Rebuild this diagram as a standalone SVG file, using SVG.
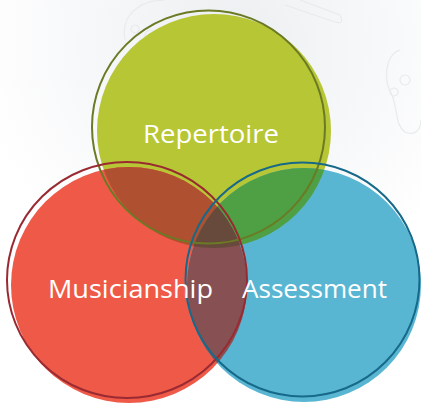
<svg xmlns="http://www.w3.org/2000/svg" width="421" height="403" viewBox="0 0 421 403">
<style>
.lbl{font-family:"Open Sans","Noto Sans","Liberation Sans",sans-serif;font-size:26px;fill:#FFFFFF}
.ring{fill:none;stroke-width:2}
.deco{fill:none;stroke:#E8EAEC;stroke-width:1.2}
</style>
<defs>
<radialGradient id="bg" cx="230" cy="40" r="260" gradientUnits="userSpaceOnUse">
<stop offset="0" stop-color="#ECEFF1"/>
<stop offset="1" stop-color="#FFFFFF"/>
</radialGradient>
<circle id="cG" cx="214" cy="131" r="117"/>
<circle id="cR" cx="129" cy="285" r="118"/>
<circle id="cB" cx="304" cy="285" r="117"/>
<clipPath id="clipG"><use href="#cG"/></clipPath>
<clipPath id="clipR"><use href="#cR"/></clipPath>
<clipPath id="clipB"><use href="#cB"/></clipPath>
</defs>
<rect width="421" height="403" fill="url(#bg)"/>
<g id="background-decoration">
<path class="deco" d="M125 40 C120 15 140 0 165 0 M150 30 a5 5 0 1 0 0.1 0 M135 25 a4 4 0 1 0 0.1 0"/>
<path class="deco" d="M285 5 L335 22 Q345 25 340 15 L300 0"/>
<path class="deco" d="M400 50 C385 55 383 80 392 95 C398 110 395 125 405 132 C415 136 421 130 421 120 M405 75 a5 5 0 1 0 0.1 0 M394 88 a4 4 0 1 0 0.1 0"/>
</g>
<g id="node-repertoire">
<use href="#cG" fill="#B7C634"/>
</g>
<g id="node-musicianship">
<use href="#cR" fill="#EF5A48"/>
</g>
<g id="node-assessment">
<use href="#cB" fill="#59B6D3"/>
</g>
<g id="overlaps">
<g clip-path="url(#clipG)"><use href="#cR" fill="#AF5030"/><use href="#cB" fill="#4F9F44"/></g>
<g clip-path="url(#clipR)"><use href="#cB" fill="#875052"/></g>
<g clip-path="url(#clipG)"><g clip-path="url(#clipR)"><use href="#cB" fill="#674A3B"/></g></g>
</g>
<g id="outlines">
<circle class="ring" cx="208.5" cy="127" r="116.5" stroke="#6B7A24"/>
<ellipse class="ring" cx="127" cy="280" rx="120" ry="118" stroke="#9A2A32"/>
<circle class="ring" cx="302.5" cy="279.5" r="117" stroke="#17698A"/>
</g>
<g id="connectors"/>
<g id="labels">
<text class="lbl" x="143" y="143" textLength="136" lengthAdjust="spacingAndGlyphs">Repertoire</text>
<text class="lbl" x="48" y="298" textLength="165" lengthAdjust="spacingAndGlyphs">Musicianship</text>
<text class="lbl" x="242" y="298" textLength="145" lengthAdjust="spacingAndGlyphs">Assessment</text>
</g>
</svg>
